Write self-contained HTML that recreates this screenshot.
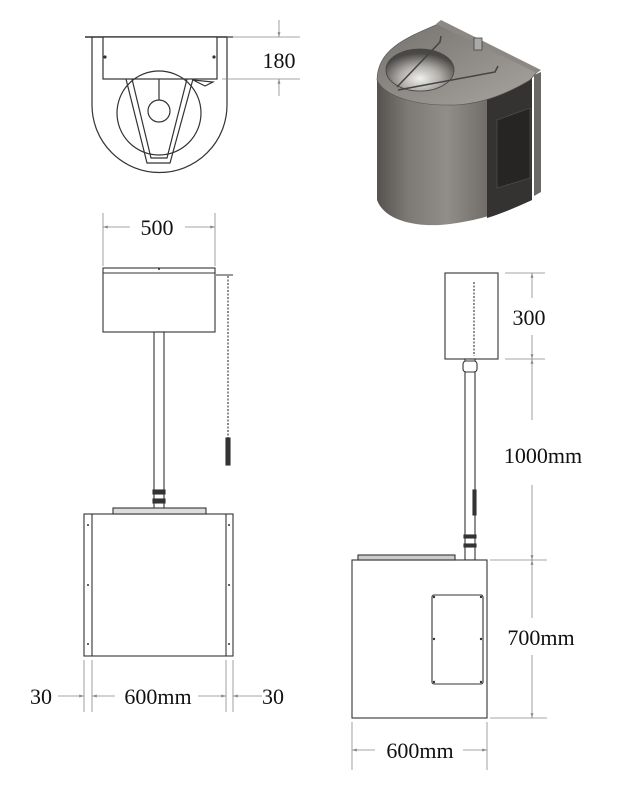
<!DOCTYPE html>
<html><head><meta charset="utf-8"><style>
html,body{margin:0;padding:0;background:#fff;}
svg{display:block;}
text{font-family:"Liberation Serif",serif;fill:#111;}
</style></head><body>
<svg width="627" height="797" viewBox="0 0 627 797" xmlns="http://www.w3.org/2000/svg">
<defs>
<linearGradient id="body" x1="0" x2="1" y1="0" y2="0">
<stop offset="0" stop-color="#55524f"/><stop offset="0.2" stop-color="#7d7975"/><stop offset="0.45" stop-color="#918d88"/><stop offset="0.75" stop-color="#6c6865"/><stop offset="1" stop-color="#454341"/></linearGradient>
<linearGradient id="top" x1="0" x2="1" y1="0" y2="1">
<stop offset="0" stop-color="#75716d"/><stop offset="1" stop-color="#a8a49f"/></linearGradient>
<radialGradient id="bowl" cx="0.5" cy="0.7" r="0.6"><stop offset="0" stop-color="#f0f0ee"/><stop offset="0.5" stop-color="#b0ada9"/><stop offset="1" stop-color="#4a4846"/></radialGradient>
<marker id="a" viewBox="0 0 10 10" refX="10" refY="5" markerWidth="6" markerHeight="6" orient="auto-start-reverse"><path d="M0,2 L10,5 L0,8 z" fill="#888"/></marker>
</defs>
<g stroke="#333" fill="none" stroke-width="1.2">
<line x1="85" y1="37" x2="233" y2="37" stroke-width="1.6"/>
<path d="M92,37 V105 A67.5,67.5 0 0 0 227,105 V37"/>
<rect x="103" y="37" width="114" height="42" fill="#fff"/>
<circle cx="159" cy="113" r="42"/>
<circle cx="159" cy="111" r="11"/>
<line x1="159" y1="79" x2="159" y2="100"/>
<path d="M126,79 L147,163 L170,163 L193,79 M132,79 L151,158 L167,158 L187,79"/>
<path d="M193,80 L213,82 L205,86 Z"/>
<circle cx="105" cy="57" r="1" fill="#333"/><circle cx="214" cy="57" r="1" fill="#333"/>
</g>
<g stroke="#888" fill="none" stroke-width="0.8">
<line x1="227" y1="37" x2="300" y2="37"/><line x1="222" y1="79" x2="300" y2="79"/>
<line x1="279" y1="20" x2="279" y2="37" marker-end="url(#a)"/>
<line x1="279" y1="96" x2="279" y2="79" marker-end="url(#a)"/>
</g>
<text x="279" y="68" font-size="22" text-anchor="middle">180</text>

<path d="M377,80 V200 C385,222 420,228 450,224 C480,220 505,212 532,200 V80 Z" fill="url(#body)"/>
<path d="M487,95 L532,78 V200 C515,208 500,214 487,218 Z" fill="#343332"/>
<path d="M497,120 L530,108 V178 L497,188 Z" fill="#262524" stroke="#555" stroke-width="0.6"/>
<path d="M534,75 L541,72 V192 L534,196 Z" fill="#6a6764"/>
<path d="M377,80 C377,50 405,38 438,24 L537,72 L530,80 C505,95 480,104 455,105 C420,106 385,98 377,80 Z" fill="url(#top)" stroke="#555" stroke-width="0.6"/>
<path d="M436,24 L441,20 L541,70 L537,73 Z" fill="#8c8884"/>
<ellipse cx="420" cy="70" rx="34" ry="21" fill="url(#bowl)" stroke="#444" stroke-width="0.8"/>
<path d="M397,87 L440,42 L441,36 M398,90 L495,72 L498,66" stroke="#444" stroke-width="1.5" fill="none"/>
<rect x="474" y="38" width="8" height="12" fill="#aaa" stroke="#444" stroke-width="0.8"/>

<g stroke="#888" fill="none" stroke-width="0.8">
<line x1="103" y1="213" x2="103" y2="266"/><line x1="215" y1="213" x2="215" y2="266"/>
<line x1="130" y1="227" x2="103" y2="227" marker-end="url(#a)"/>
<line x1="185" y1="227" x2="215" y2="227" marker-end="url(#a)"/>
</g>
<text x="157" y="235" font-size="22" text-anchor="middle">500</text>
<g stroke="#333" fill="none" stroke-width="1.1">
<rect x="103" y="268" width="112" height="64" fill="#fff"/>
<line x1="103" y1="273" x2="215" y2="273"/>
<rect x="154" y="332" width="10" height="181" fill="#fff"/>
<rect x="153" y="490" width="12" height="4" fill="#333"/>
<rect x="153" y="499" width="12" height="4" fill="#333"/>
<line x1="228" y1="276" x2="228" y2="438" stroke-dasharray="2,1.5"/>
<rect x="226" y="438" width="4" height="27" fill="#333"/>
<line x1="216" y1="275" x2="233" y2="275"/>
<rect x="84" y="514" width="149" height="142" fill="#fff"/>
<line x1="92" y1="514" x2="92" y2="656"/><line x1="226" y1="514" x2="226" y2="656"/>
<rect x="113" y="508" width="93" height="6" fill="#ddd"/>
</g>
<g fill="#333"><circle cx="88" cy="525" r="1"/><circle cx="88" cy="585" r="1"/><circle cx="88" cy="644" r="1"/><circle cx="229" cy="525" r="1"/><circle cx="229" cy="585" r="1"/><circle cx="229" cy="644" r="1"/><circle cx="159" cy="269" r="1"/></g>
<g stroke="#888" fill="none" stroke-width="0.8">
<line x1="84" y1="660" x2="84" y2="712"/><line x1="92" y1="660" x2="92" y2="712"/>
<line x1="226" y1="660" x2="226" y2="712"/><line x1="233" y1="660" x2="233" y2="712"/>
<line x1="58" y1="696" x2="84" y2="696" marker-end="url(#a)"/>
<line x1="115" y1="696" x2="92" y2="696" marker-end="url(#a)"/>
<line x1="198" y1="696" x2="226" y2="696" marker-end="url(#a)"/>
<line x1="262" y1="696" x2="233" y2="696" marker-end="url(#a)"/>
</g>
<text x="41" y="704" font-size="22" text-anchor="middle">30</text>
<text x="158" y="704" font-size="22" text-anchor="middle">600mm</text>
<text x="273" y="704" font-size="22" text-anchor="middle">30</text>

<g stroke="#333" fill="none" stroke-width="1.1">
<rect x="445" y="273" width="53" height="86" fill="#fff"/>
<line x1="474" y1="282" x2="474" y2="356" stroke-dasharray="2,1.5"/>
<rect x="465" y="359" width="10" height="201" fill="#fff"/>
<rect x="463" y="361" width="14" height="11" rx="3" fill="#fff"/>
<rect x="473" y="490" width="3" height="25" fill="#333"/>
<rect x="464" y="535" width="12" height="3" fill="#333"/><rect x="464" y="544" width="12" height="3" fill="#333"/>
<rect x="352" y="560" width="135" height="158" fill="#fff"/>
<rect x="432" y="595" width="51" height="89" rx="2"/>
<rect x="358" y="555" width="97" height="5" fill="#ccc"/>
</g>
<g fill="#333"><circle cx="434" cy="597" r="1.2"/><circle cx="481" cy="597" r="1.2"/><circle cx="434" cy="682" r="1.2"/><circle cx="481" cy="682" r="1.2"/><circle cx="434" cy="639" r="1.2"/><circle cx="481" cy="639" r="1.2"/></g>
<g stroke="#888" fill="none" stroke-width="0.8">
<line x1="505" y1="273" x2="545" y2="273"/><line x1="505" y1="359" x2="545" y2="359"/>
<line x1="490" y1="560" x2="547" y2="560"/><line x1="490" y1="718" x2="547" y2="718"/>
<line x1="532" y1="298" x2="532" y2="273" marker-end="url(#a)"/>
<line x1="532" y1="335" x2="532" y2="359" marker-end="url(#a)"/>
<line x1="532" y1="420" x2="532" y2="359" marker-end="url(#a)"/>
<line x1="532" y1="485" x2="532" y2="560" marker-end="url(#a)"/>
<line x1="532" y1="618" x2="532" y2="560" marker-end="url(#a)"/>
<line x1="532" y1="655" x2="532" y2="718" marker-end="url(#a)"/>
<line x1="352" y1="722" x2="352" y2="770"/><line x1="487" y1="722" x2="487" y2="770"/>
<line x1="375" y1="750" x2="352" y2="750" marker-end="url(#a)"/>
<line x1="463" y1="750" x2="487" y2="750" marker-end="url(#a)"/>
</g>
<text x="529" y="325" font-size="22" text-anchor="middle">300</text>
<text x="543" y="463" font-size="22" text-anchor="middle">1000mm</text>
<text x="541" y="645" font-size="22" text-anchor="middle">700mm</text>
<text x="420" y="758" font-size="22" text-anchor="middle">600mm</text>
</svg>
</body></html>
